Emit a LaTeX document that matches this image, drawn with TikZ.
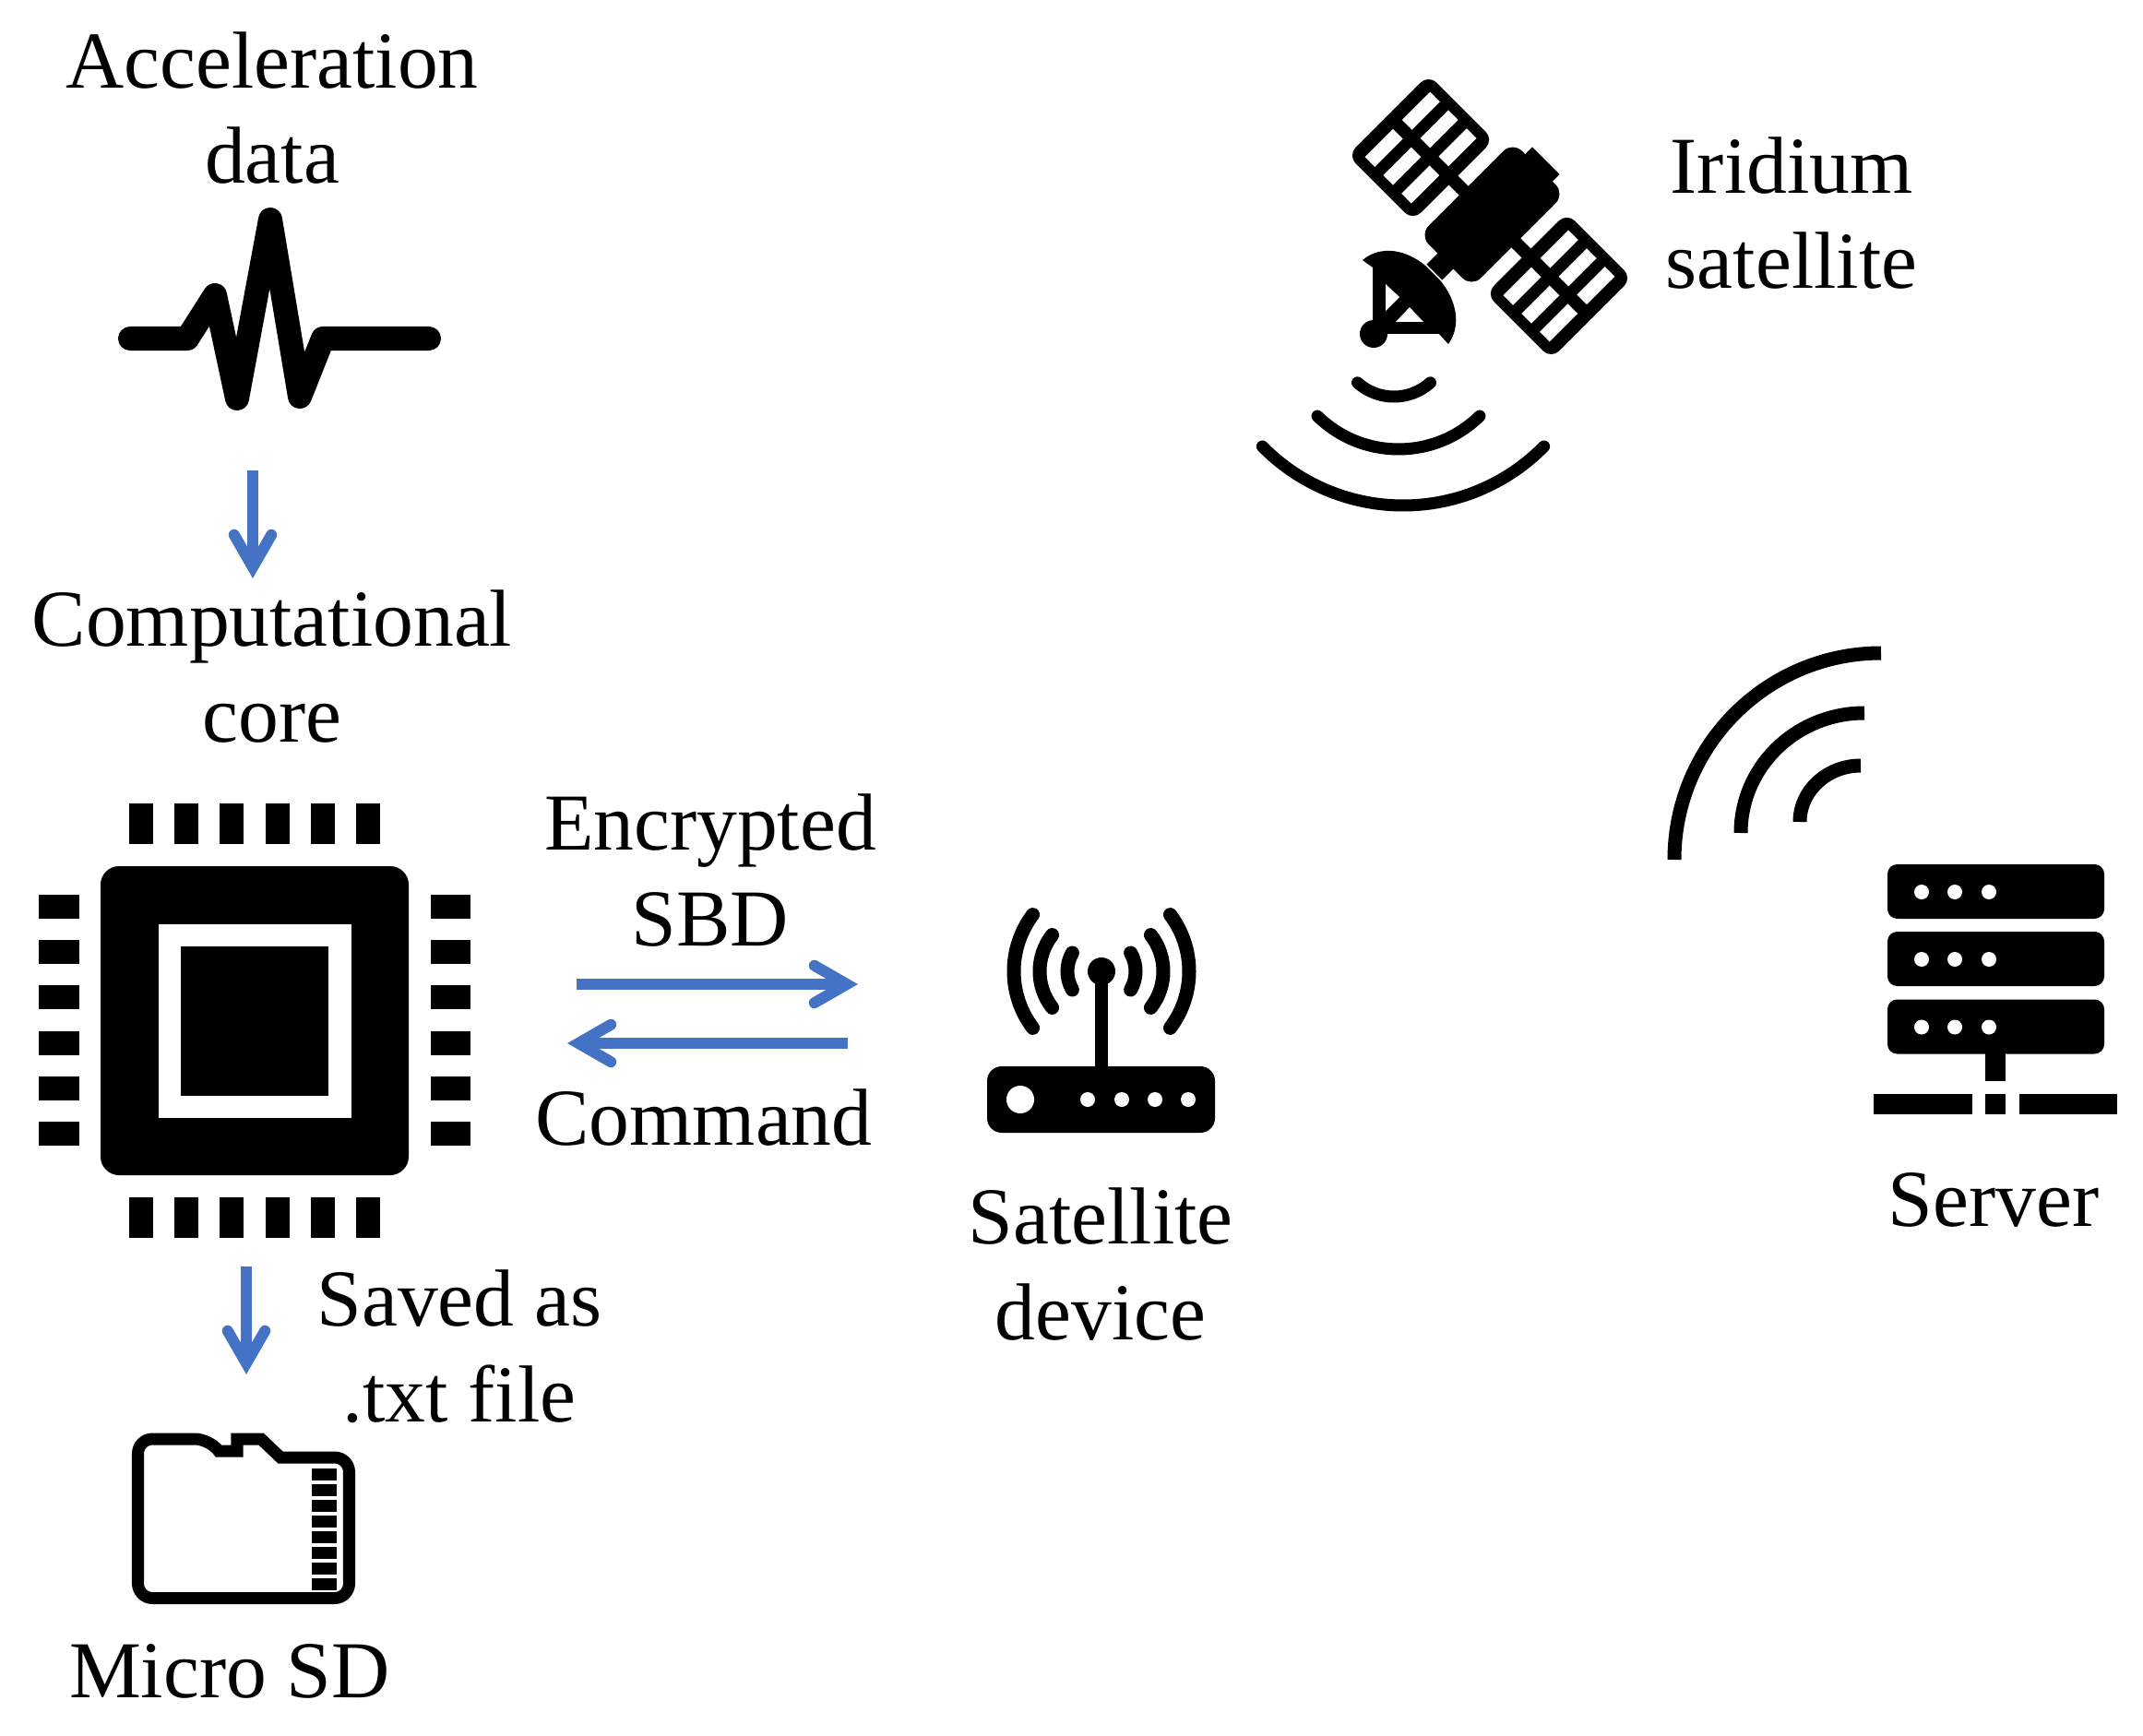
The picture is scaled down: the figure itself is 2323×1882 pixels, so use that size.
\documentclass[tikz,border=0pt]{standalone}
\usepackage{fontspec}
\setmainfont{Liberation Serif}
\definecolor{ArrowBlue}{HTML}{4472C4}
\colorlet{IconFill}{black}
\usetikzlibrary{arrows.meta}
\tikzset{
    label text/.style={
        font=\fontsize{24.9}{29.3}\selectfont, align=center, inner sep=0pt, anchor=base
    },
    blue arrow/.style={
        draw=ArrowBlue, line width=12*0.2845pt,
        -{Straight Barb[length=10pt,width=11.5pt,line cap=round]}
    },
    icon line/.style={draw=IconFill, line width=13*0.2845pt},
    antenna line/.style={draw=IconFill, line width=15*0.2845pt, line cap=round}
}

\begin{document}
\begin{tikzpicture}[x=0.01cm, y=-0.01cm]

\useasboundingbox (0,0) rectangle (2323,1882);

% Labels.
\node[label text] (AccelLabel) at (295,199) {Acceleration\\data};
\node[label text] (CoreLabel) at (295,804) {Computational\\core};
\node[label text] (SbdLabel) at (770,1025) {Encrypted\\SBD};
\node[label text] (CommandLabel) at (763,1241) {Command};
\node[label text] (SavedLabel) at (498,1541) {Saved as\\.txt file};
\node[label text] (SdLabel) at (249,1840) {Micro SD};
\node[label text] (DeviceLabel) at (1193,1452) {Satellite\\device};
\node[label text] (ServerLabel) at (2161,1329) {Server};
\node[label text] (IridiumLabel) at (1942,313) {Iridium\\satellite};

% Blue arrows.
\coordinate (WaveOut) at (274,510);
\coordinate (CoreIn) at (274,627);
\coordinate (SbdStart) at (625,1067);
\coordinate (SbdEnd) at (930,1067);
\coordinate (CommandStart) at (919,1131);
\coordinate (CommandEnd) at (615,1131);
\coordinate (CoreOut) at (267,1373);
\coordinate (SdIn) at (267,1490);
\draw[blue arrow] (WaveOut) -- (CoreIn);
\draw[blue arrow] (SbdStart) -- (SbdEnd);
\draw[blue arrow] (CommandStart) -- (CommandEnd);
\draw[blue arrow] (CoreOut) -- (SdIn);

% Acceleration signal.
\draw[icon line, line width=26*0.2845pt, line cap=round, line join=round]
    (141,367) -- (203,367) -- (233,320) -- (257,432) -- (293,238)
    -- (325,430) -- (350,367) -- (465,367);

% Chip body and pins.
\fill[IconFill, rounded corners=5.7pt] (109,939) rectangle (443,1274);
\fill[white] (172,1002) rectangle (381,1212);
\fill[IconFill] (196,1026) rectangle (356,1188);
\foreach \pin in {0,...,5} {
    \fill[IconFill] ({140+49.2*\pin},871) rectangle ({166+49.2*\pin},915);
    \fill[IconFill] ({140+49.2*\pin},1298) rectangle ({166+49.2*\pin},1342);
    \fill[IconFill] (42,{970+49.2*\pin}) rectangle (86,{996+49.2*\pin});
    \fill[IconFill] (467,{970+49.2*\pin}) rectangle (510,{996+49.2*\pin});
}

% Micro SD card.
\draw[icon line, line join=miter]
    (247,1573) -- (257,1573) -- (257,1560) -- (283,1560) -- (304,1580)
    [rounded corners=4.5pt] -- (378.5,1580) -- (378.5,1732.5) -- (149.5,1732.5)
    -- (149.5,1560) -- (227,1560) [sharp corners] -- (237,1573) -- cycle;
\foreach \contact in {0,...,7} {
    \fill[IconFill] (338,{1592+17*\contact}) rectangle (365,{1605+17*\contact});
}

% Satellite device.
\fill[IconFill, rounded corners=4.5pt] (1070,1156) rectangle (1317,1228);
\fill[white] (1106,1192) circle (15);
\foreach \dotx in {1179,1216,1252,1288} {
    \fill[white] (\dotx,1192) circle (8);
}
\fill[IconFill] (1187,1053) rectangle (1201,1160);
\fill[IconFill] (1194,1053) circle (15);
\foreach \rad/\ang/\off in {102/37/7, 64/38/-3, 40/30/3} {
    \draw[antenna line] ({1194+\off+\rad*cos(180-\ang)},{1053+\rad*sin(180-\ang)})
        arc[start angle=180-\ang, end angle=180+\ang, radius=\rad];
    \draw[antenna line] ({1194-\off+\rad*cos(\ang)},{1053+\rad*sin(\ang)})
        arc[start angle=\ang, end angle=-\ang, radius=\rad];
}

% Server.
\foreach \racky in {937,1010,1083.5} {
    \fill[IconFill, rounded corners=3pt] (2046,\racky) rectangle (2281,{\racky+59});
    \foreach \dotx in {2083,2119,2156} {
        \fill[white] (\dotx,{\racky+30}) circle (8);
    }
}
\fill[IconFill] (2152,1142) rectangle (2174,1172);
\fill[IconFill] (2031,1186) rectangle (2138,1208);
\fill[IconFill] (2152,1186) rectangle (2174,1208);
\fill[IconFill] (2189,1186) rectangle (2295,1208);

% Signal above the server.
\draw[icon line, line width=15*0.2845pt] (1815,932) arc[start angle=180, end angle=270, x radius=224, y radius=224];
\draw[icon line, line width=15*0.2845pt] (1887,903) arc[start angle=180, end angle=270, x radius=134, y radius=130];
\draw[icon line, line width=15*0.2845pt] (1951,891) arc[start angle=180, end angle=270, x radius=66, y radius=61];

% Satellite panels and body.
\begin{scope}[shift={(1615,235)}, rotate=-45]
    \foreach \side in {-1,1} {
        \fill[IconFill, rounded corners=3.5pt]
            ({\side*106-50},-62) rectangle ({\side*106+50},62);
        \foreach \col in {-28,0,28} {
            \foreach \row in {-28.5,28.5} {
                \fill[white] ({\side*106+\col-7.5},{\row-21.5}) rectangle ({\side*106+\col+7.5},{\row+21.5});
            }
        }
        \fill[IconFill] ({\side*48-9},-7) rectangle ({\side*48+9},7);
    }
    \fill[IconFill, rounded corners=4pt] (-40,-75) rectangle (40,68);
    \fill[IconFill] (-21,-86) rectangle (21,-65);
    \fill[IconFill] (-12,60) rectangle (12,85);
\end{scope}

% Satellite dish.
\fill[IconFill] (1477,282) .. controls (1497,265) and (1525,271) .. (1545,288)
    -- (1562,305) .. controls (1578,325) and (1585,352) .. (1570,373)
    -- (1560,362) -- (1503,362) -- (1488,347) -- (1488,290) -- cycle;
\fill[IconFill] (1489,362) circle (15);
\fill[white] (1502,308) -- (1517,322) -- (1502,337) -- cycle;
\fill[white] (1528,333) -- (1543,349) -- (1513,349) -- cycle;

% Signal below the satellite.
\foreach \cx/\cy/\rad/\ang in {1521/334/214/45.5, 1516/361.5/125.5/44.5, 1511/371/59/42} {
    \draw[icon line, line cap=round] ({\cx+\rad*cos(90+\ang)},{\cy+\rad*sin(90+\ang)})
        arc[start angle=90+\ang, end angle=90-\ang, radius=\rad];
}

\end{tikzpicture}
\end{document}
